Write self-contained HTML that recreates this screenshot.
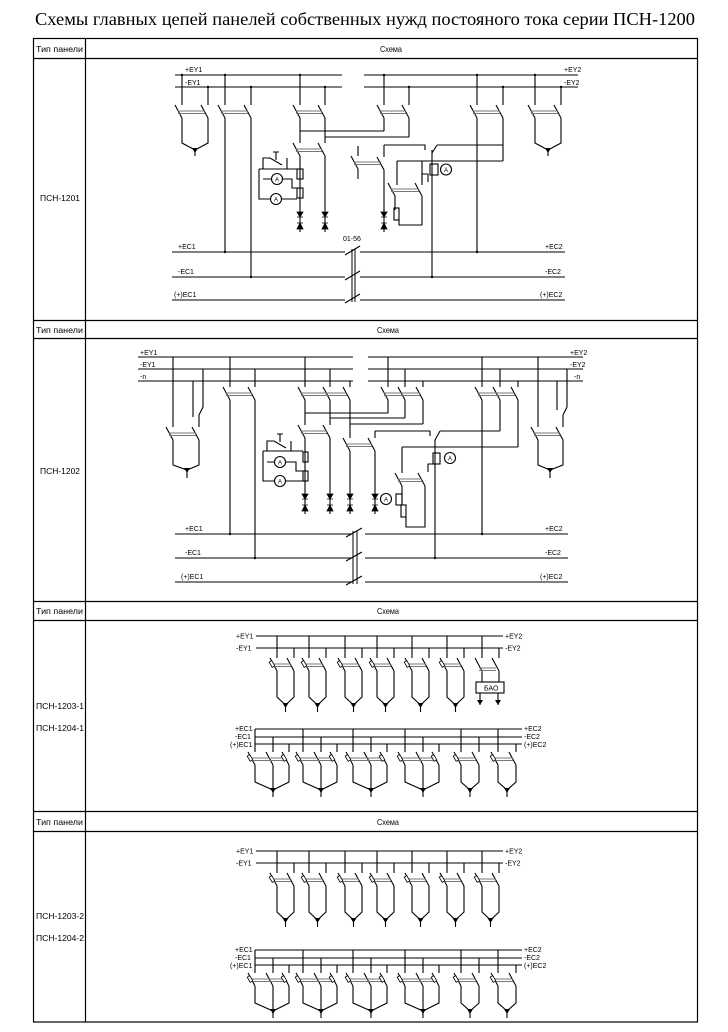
<!DOCTYPE html>
<html><head><meta charset="utf-8"><style>
html,body{margin:0;padding:0;background:#fff}
svg{display:block}
.t{font-family:"Liberation Sans",sans-serif;font-size:7px;fill:#000}
.a{font-family:"Liberation Sans",sans-serif;font-size:6px;fill:#000;text-anchor:middle}
.h{font-family:"Liberation Sans",sans-serif;font-size:8.5px;fill:#000}
</style></head><body>
<svg width="728" height="1032" viewBox="0 0 728 1032" xmlns="http://www.w3.org/2000/svg">
<defs>
<g id="fu">
 <path d="M-7 0L0 13M10 0L17 13M0 13V39L8.5 47L17 39V13M8.5 47V54" fill="none" stroke="#000" stroke-width="1.1"/>
 <path d="M-4 6H14M-4 8.5H14" stroke="#777" stroke-width="1"/>
 <rect x="-6.5" y="3" width="3" height="6" fill="#fff" stroke="#000" stroke-width="0.8" transform="rotate(-30 -5 6)"/>
 <path d="M5.5 45H11.5L8.5 50Z"/>
</g>
<g id="fu3">
 <path d="M-7 0L0 13M11 0L18 13M27 0L34 13M0 13V30L18 38L34 30V13M18 13V45" fill="none" stroke="#000" stroke-width="1.1"/>
 <path d="M-4 6H30M-4 8.5H30" stroke="#777" stroke-width="1"/>
 <rect x="-6.5" y="3" width="3" height="6" fill="#fff" stroke="#000" stroke-width="0.8" transform="rotate(-30 -5 6)"/>
 <rect x="27.5" y="3" width="3" height="6" fill="#fff" stroke="#000" stroke-width="0.8" transform="rotate(-30 29 6)"/>
 <path d="M15 36H21L18 41Z"/>
</g>
<g id="fu2">
 <path d="M-7 0L0 13M11 0L18 13M0 13V30L9 38L18 30V13M9 38V45" fill="none" stroke="#000" stroke-width="1.1"/>
 <path d="M-4 6H15M-4 8.5H15" stroke="#777" stroke-width="1"/>
 <rect x="-6.5" y="3" width="3" height="6" fill="#fff" stroke="#000" stroke-width="0.8" transform="rotate(-30 -5 6)"/>
 <path d="M6 36H12L9 41Z"/>
</g>
<g id="sw">
 <path d="M-7 0L0 13" stroke="#000" stroke-width="1.1"/>
</g>
<g id="di">
 <path d="M0 0V22" stroke="#000" stroke-width="1.1"/>
 <path d="M-3 2H3L0 7Z M-3 7H3" stroke="#000" stroke-width="0.8"/>
 <path d="M-3 19H3L0 13Z M-3 13H3" stroke="#000" stroke-width="0.8"/>
</g>
</defs>

<text x="35" y="25" font-family="Liberation Serif, serif" font-size="18" textLength="660" lengthAdjust="spacingAndGlyphs">Схемы главных цепей панелей собственных нужд постояного тока серии ПСН-1200</text>

<g fill="none" stroke="#000" stroke-width="1.2">
 <rect x="33.5" y="38.5" width="664" height="983.5"/>
 <path d="M85.5 38.5V1022"/>
 <path d="M33.5 58.5H697.5M33.5 320.5H697.5M33.5 338.5H697.5M33.5 601.5H697.5M33.5 620.5H697.5M33.5 811.5H697.5M33.5 831.5H697.5"/>
</g>
<g class="h">
 <text x="36" y="52" textLength="47" lengthAdjust="spacingAndGlyphs">Тип панели</text>
 <text x="380" y="52" textLength="22" lengthAdjust="spacingAndGlyphs">Схема</text>
 <text x="36" y="333" textLength="47" lengthAdjust="spacingAndGlyphs">Тип панели</text>
 <text x="377" y="333" textLength="22" lengthAdjust="spacingAndGlyphs">Схема</text>
 <text x="36" y="614" textLength="47" lengthAdjust="spacingAndGlyphs">Тип панели</text>
 <text x="377" y="614" textLength="22" lengthAdjust="spacingAndGlyphs">Схема</text>
 <text x="36" y="825" textLength="47" lengthAdjust="spacingAndGlyphs">Тип панели</text>
 <text x="377" y="825" textLength="22" lengthAdjust="spacingAndGlyphs">Схема</text>
 <text x="40" y="201" textLength="40" lengthAdjust="spacingAndGlyphs">ПСН-1201</text>
 <text x="40" y="474" textLength="40" lengthAdjust="spacingAndGlyphs">ПСН-1202</text>
 <text x="36" y="709" textLength="48" lengthAdjust="spacingAndGlyphs">ПСН-1203-1</text>
 <text x="36" y="731" textLength="48" lengthAdjust="spacingAndGlyphs">ПСН-1204-1</text>
 <text x="36" y="919" textLength="48" lengthAdjust="spacingAndGlyphs">ПСН-1203-2</text>
 <text x="36" y="941" textLength="48" lengthAdjust="spacingAndGlyphs">ПСН-1204-2</text>
</g>

<!-- ===== Section 1 ===== -->
<g fill="none" stroke="#000" stroke-width="1.1">
 <path d="M175 75H342M175 87H342M364 75H578M364 87H578"/>
 <path d="M172 252H345M172 277H345M172 300H345M360 252H565M360 277H565M360 300H565"/>
 <path d="M182 75V105M208 87V105M182 118V143L195 150L208 143V118M195 150V156"/>
 <path d="M225 75V105M225 118V252M251 87V105M251 118V277"/>
 <path d="M300 75V105M300 118V143M300 156V210M325 87V105M325 118V143M325 156V210M300 131H384M325 137H409"/>
 <path d="M384 75V105M384 118V131M409 87V105M409 118V137"/>
 <path d="M477 75V105M477 118V252M503 87V105M503 118V161M384 145H425V150M437 145H503M432 150V277M397 161H503M397 161V185"/>
 <path d="M437 145L432 153"/>
 <path d="M358 146V156M358 169V179M384 145V157M384 170V210"/>
 <path d="M395 196V210M399 220V225H422V196M422 161V185"/>
 <rect x="394" y="208" width="5" height="12"/>
 <rect x="430" y="164" width="8" height="11"/>
 <circle cx="446" cy="169.5" r="5.5"/>
 <path d="M422 182V174H428V182"/>
 <rect x="297" y="169" width="6" height="10"/>
 <rect x="297" y="188" width="6" height="10"/>
 <circle cx="277" cy="179" r="5.5"/>
 <circle cx="276" cy="199" r="5.5"/>
 <path d="M259 169H297M259 169V199H270.5M281.5 199H297M263 179H271.5M282.5 179H292V188H297M263 169V158H270L282 165M287 158V169M276 152V160M273 152H279"/>
 <path d="M535 75V105M561 87V105M535 118V143L548 150L561 143V118M548 150V156"/>
 <path d="M352 249V302M355 249V302" stroke-width="1"/>
 <path d="M345 255L360 246M345 280L360 271M345 303L360 294"/>
</g>
<g class="a"><text x="277" y="181.5">A</text><text x="276" y="201.5">A</text><text x="446" y="172">A</text></g>
<g fill="#000">
 <circle cx="182" cy="75" r="1.2"/><circle cx="208" cy="87" r="1.2"/><circle cx="225" cy="75" r="1.2"/><circle cx="251" cy="87" r="1.2"/>
 <circle cx="300" cy="75" r="1.2"/><circle cx="325" cy="87" r="1.2"/><circle cx="384" cy="75" r="1.2"/><circle cx="409" cy="87" r="1.2"/>
 <circle cx="477" cy="75" r="1.2"/><circle cx="503" cy="87" r="1.2"/><circle cx="535" cy="75" r="1.2"/><circle cx="561" cy="87" r="1.2"/>
 <circle cx="225" cy="252" r="1.2"/><circle cx="251" cy="277" r="1.2"/><circle cx="477" cy="252" r="1.2"/><circle cx="432" cy="277" r="1.2"/>
 <path d="M192 148H198L195 153Z M545 148H551L548 153Z"/>
</g>
<g>
 <use href="#sw" x="182" y="105"/><use href="#sw" x="208" y="105"/><use href="#sw" x="225" y="105"/><use href="#sw" x="251" y="105"/>
 <use href="#sw" x="300" y="105"/><use href="#sw" x="325" y="105"/><use href="#sw" x="384" y="105"/><use href="#sw" x="409" y="105"/>
 <use href="#sw" x="477" y="105"/><use href="#sw" x="503" y="105"/><use href="#sw" x="535" y="105"/><use href="#sw" x="561" y="105"/>
 <use href="#sw" x="300" y="143"/><use href="#sw" x="325" y="143"/><use href="#sw" x="358" y="156"/><use href="#sw" x="384" y="157"/>
 <use href="#sw" x="395" y="183"/><use href="#sw" x="422" y="183"/>
 <use href="#di" x="300" y="210"/><use href="#di" x="325" y="210"/><use href="#di" x="384" y="210"/>
 <path d="M178 111H205M178 113.5H205M221 111H248M221 113.5H248M296 111H322M296 113.5H322M380 111H406M380 113.5H406M473 111H500M473 113.5H500M531 111H558M531 113.5H558M296 149H322M296 151.5H322M354 162H381M354 164.5H381M391 189H419M391 191.5H419" stroke="#777" stroke-width="1"/>
</g>
<g class="t">
 <text x="185" y="72">+EY1</text><text x="185" y="85">-EY1</text>
 <text x="564" y="72">+EY2</text><text x="564" y="85">-EY2</text>
 <text x="178" y="249">+EC1</text><text x="178" y="274">-EC1</text><text x="174" y="297">(+)EC1</text>
 <text x="545" y="249">+EC2</text><text x="545" y="274">-EC2</text><text x="540" y="297">(+)EC2</text>
 <text x="343" y="241">01-56</text>
</g>

<!-- ===== Section 2 ===== -->
<g fill="none" stroke="#000" stroke-width="1.1">
 <path d="M138 357H353M138 369H353M138 381H353M368 357H583M368 369H583M368 381H583"/>
 <path d="M175 534H352M175 558H352M175 582H352M365 534H568M365 558H568M365 582H568"/>
 <path d="M173 357V427M193 381V417M203 369V407L199 415V427M173 440V465L187 470L199 465V440M187 470V478"/>
 <path d="M230 357V387M230 400V534M255 369V387M255 400V558"/>
 <path d="M305 357V387M330 369V387M350 381V387M305 400V425M305 438V492M330 400V425M330 438V492M350 400V438M350 451V492M305 413H388M330 418H405M350 424H423"/>
 <path d="M375 431V438M375 451V492"/>
 <path d="M388 357V387M388 400V413M405 369V387M405 400V418M423 381V387M423 400V424"/>
 <path d="M482 357V387M482 400V534M500 369V387M500 400V431M518 381V387M518 400V447M375 431H430V436M440 431H500M435 440V558M402 447H518M402 447V473"/>
 <path d="M440 431L435 440"/>
 <path d="M402 486V505M406 517V527H425V486M425 473V473"/>
 <rect x="401" y="505" width="5" height="12"/>
 <rect x="396" y="494" width="6" height="11"/>
 <circle cx="386" cy="499" r="5.5"/>
 <rect x="433" y="453" width="7" height="11"/>
 <circle cx="450" cy="458" r="5.5"/>
 <path d="M428 472V464H433"/>
 <rect x="303" y="452" width="5" height="10"/>
 <rect x="303" y="471" width="5" height="10"/>
 <circle cx="280" cy="462" r="5.5"/>
 <circle cx="280" cy="481" r="5.5"/>
 <path d="M263 451H303M263 451V481H274.5M285.5 481H303M267 462H274.5M285.5 462H296V471H303M267 451V441H274L286 448M291 441V451M280 434V442M277 434H283"/>
 <path d="M538 357V427M557 381V410M567 369V407L563 415V427M538 440V465L550 470L563 465V440M550 470V478"/>
 <path d="M353 531V584M357 531V584" stroke-width="1"/>
 <path d="M346 537L362 528M346 561L362 552M346 585L362 576"/>
</g>
<g class="a"><text x="280" y="464.5">A</text><text x="280" y="483.5">A</text><text x="386" y="501.5">A</text><text x="450" y="460.5">A</text></g>
<g fill="#000">
 <path d="M184 468H190L187 473Z M547 468H553L550 473Z"/>
 <circle cx="230" cy="534" r="1.2"/><circle cx="255" cy="558" r="1.2"/><circle cx="482" cy="534" r="1.2"/><circle cx="435" cy="558" r="1.2"/>
</g>
<g>
 <use href="#sw" x="173" y="427"/><use href="#sw" x="199" y="427"/><use href="#sw" x="538" y="427"/><use href="#sw" x="563" y="427"/>
 <use href="#sw" x="230" y="387"/><use href="#sw" x="255" y="387"/><use href="#sw" x="305" y="387"/><use href="#sw" x="330" y="387"/><use href="#sw" x="350" y="387"/>
 <use href="#sw" x="388" y="387"/><use href="#sw" x="405" y="387"/><use href="#sw" x="423" y="387"/>
 <use href="#sw" x="482" y="387"/><use href="#sw" x="500" y="387"/><use href="#sw" x="518" y="387"/>
 <use href="#sw" x="305" y="425"/><use href="#sw" x="330" y="425"/><use href="#sw" x="350" y="438"/><use href="#sw" x="375" y="438"/>
 <use href="#sw" x="402" y="473"/><use href="#sw" x="425" y="473"/>
 <use href="#di" x="305" y="492"/><use href="#di" x="330" y="492"/><use href="#di" x="350" y="492"/><use href="#di" x="375" y="492"/>
 <path d="M169 433H196M169 435.5H196M534 433H560M534 435.5H560M226 393H252M226 395.5H252M301 393H347M301 395.5H347M384 393H420M384 395.5H420M478 393H515M478 395.5H515M301 431H327M301 433.5H327M346 444H372M346 446.5H372M398 479H422M398 481.5H422" stroke="#777" stroke-width="1"/>
</g>
<g class="t">
 <text x="140" y="355">+EY1</text><text x="140" y="367">-EY1</text><text x="140" y="379">-n</text>
 <text x="570" y="355">+EY2</text><text x="570" y="367">-EY2</text><text x="574" y="379">-n</text>
 <text x="185" y="531">+EC1</text><text x="185" y="555">-EC1</text><text x="181" y="579">(+)EC1</text>
 <text x="545" y="531">+EC2</text><text x="545" y="555">-EC2</text><text x="540" y="579">(+)EC2</text>
</g>

<!-- ===== Section 3 ===== -->
<g id="topbus">
 <g fill="none" stroke="#000" stroke-width="1.1">
  <path d="M256 636H503M256 648H503"/>
  <path d="M277 636V658M294 648V658M309 636V658M326 648V658M345 636V658M362 648V658M377 636V658M394 648V658M412 636V658M429 648V658M447 636V658M464 648V658M482 636V658M499 648V658"/>
 </g>
 <use href="#fu" x="277" y="658"/><use href="#fu" x="309" y="658"/><use href="#fu" x="345" y="658"/><use href="#fu" x="377" y="658"/><use href="#fu" x="412" y="658"/><use href="#fu" x="447" y="658"/>
 <g class="t"><text x="236" y="638.5">+EY1</text><text x="236" y="650.5">-EY1</text><text x="505" y="638.5">+EY2</text><text x="505" y="650.5">-EY2</text></g>
</g>
<g fill="none" stroke="#000" stroke-width="1.1">
 <path d="M475 658L482 671M492 658L499 671M482 671V682M499 671V682M480 693V705M498 693V705"/>
 <path d="M479 668H496M479 670.5H496" stroke="#777"/>
 <rect x="476" y="682" width="28" height="11"/>
</g>
<path d="M477 700H483L480 705Z M495 700H501L498 705Z"/>
<text class="t" x="484" y="690.5">БАО</text>

<g id="botbus">
 <g fill="none" stroke="#000" stroke-width="1.1">
  <path d="M255 729H522M255 737H522M255 744H522"/>
  <path d="M255 729V752M273 737V752M289 744V752M303 729V752M321 737V752M337 744V752M353 729V752M371 737V752M387 744V752M405 729V752M423 737V752M439 744V752M461 729V752M479 737V752M498 729V752M516 744V752"/>
 </g>
 <use href="#fu3" x="255" y="752"/><use href="#fu3" x="303" y="752"/><use href="#fu3" x="353" y="752"/><use href="#fu3" x="405" y="752"/>
 <use href="#fu2" x="461" y="752"/><use href="#fu2" x="498" y="752"/>
 <g class="t"><text x="235" y="731">+EC1</text><text x="235" y="739">-EC1</text><text x="230" y="747">(+)EC1</text><text x="524" y="731">+EC2</text><text x="524" y="739">-EC2</text><text x="524" y="747">(+)EC2</text></g>
</g>

<!-- ===== Section 4 ===== -->
<use href="#topbus" x="0" y="215"/>
<use href="#fu" x="482" y="873"/>
<use href="#botbus" x="0" y="221"/>
</svg>
</body></html>
